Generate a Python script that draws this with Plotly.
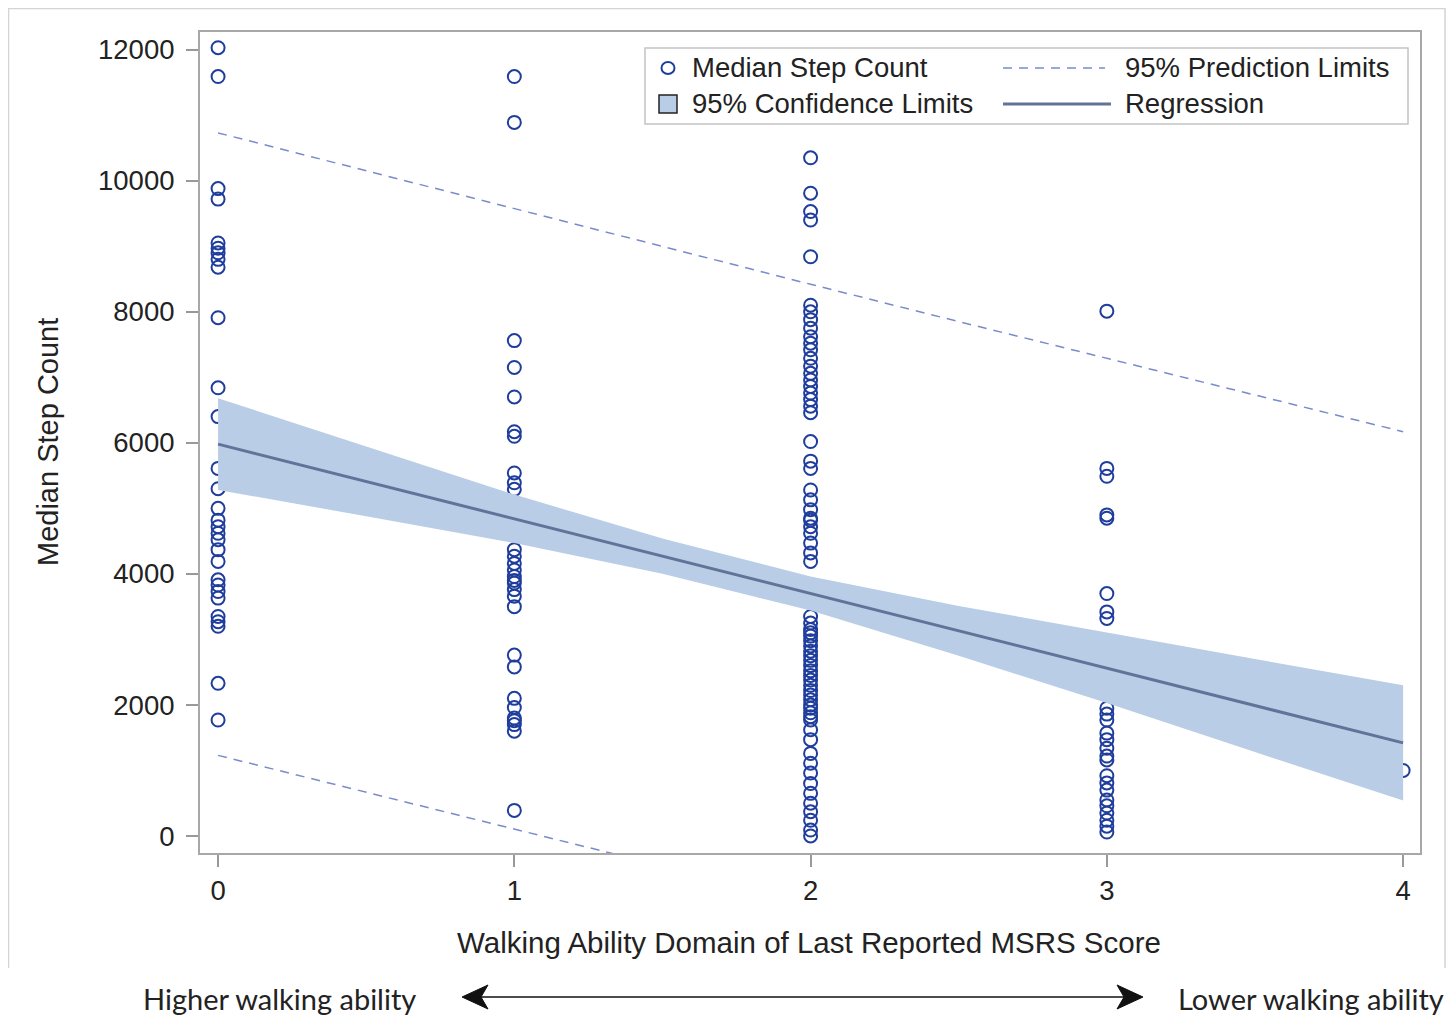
import plotly.graph_objects as go

# ---------------- data ----------------
score_levels = [0, 1, 2, 3, 4]

steps_score0 = [12030, 11590, 9880, 9720, 9050, 8970, 8900, 8800, 8680, 7910,
                6840, 6400, 5610, 5300, 5000, 4820, 4720, 4620, 4520, 4370,
                4190, 3910, 3830, 3730, 3630, 3350, 3270, 3200, 2330, 1770]
steps_score1 = [11590, 10890, 7560, 7150, 6700, 6170, 6100, 5540, 5390, 5290,
                4370, 4270, 4160, 4060, 3960, 3900, 3860, 3760, 3660, 3500,
                2760, 2580, 2100, 1960, 1800, 1760, 1700, 1600, 390]
steps_score2 = [10350, 9810, 9530, 9400, 8840, 8100, 8000, 7880, 7750, 7620,
                7520, 7420, 7290, 7170, 7060, 6960, 6860, 6760, 6660, 6560,
                6460, 6020, 5720, 5610, 5280, 5130, 4980, 4850, 4820, 4720,
                4620, 4470, 4320, 4190, 3350, 3250, 3150, 3100, 3050, 2980,
                2900, 2820, 2750, 2680, 2600, 2520, 2450, 2380, 2300, 2220,
                2150, 2080, 2000, 1950, 1880, 1820, 1770, 1620, 1470, 1260,
                1110, 960, 800, 650, 500, 370, 240, 90, 0]
steps_score3 = [8010, 5610, 5490, 4900, 4850, 3700, 3420, 3320, 1950, 1860,
                1770, 1570, 1470, 1340, 1220, 1160, 920, 810, 700, 550,
                460, 350, 240, 150, 60]
steps_score4 = [1000]

fit_x = [0, 0.5, 1, 1.5, 2, 2.5, 3, 3.5, 4]
regression = [5980, 5410, 4840, 4270, 3700, 3130, 2560, 1990, 1420]
conf_upper = [6680, 5940, 5210, 4540, 3960, 3510, 3100, 2700, 2300]
conf_lower = [5280, 4880, 4470, 4000, 3440, 2750, 2030, 1280, 540]
pred_upper = [10730, 10150, 9570, 8990, 8420, 7850, 7290, 6730, 6170]
pred_lower = [1230, 670, 110, -450, -1020, -1590, -2170, -2750, -3330]

y_ticks = [0, 2000, 4000, 6000, 8000, 10000, 12000]

# ---------------- styling ----------------
# The page shows the figure with an 8px body margin, so the figure is built
# 8px smaller and every reference pixel position is shifted by that offset.
OFF = 8
W, H = 1454 - OFF, 1015 - OFF
PL, PR, PT, PB = 200, 1420, 32, 853          # plot area in reference pixels
FONT = "Liberation Sans, Arial, sans-serif"
TXT = "#222222"
PT_COLOR = "#1f3d9c"
BAND = "#b9cde6"
REG = "#62739a"
PRED = "#7a8bcc"


def px(x):
    return (x - PL) / (PR - PL)


def py(y):
    return (PB - y) / (PB - PT)


all_x, all_y = [], []
for lvl, vals in zip(score_levels, [steps_score0, steps_score1, steps_score2,
                                    steps_score3, steps_score4]):
    all_x += [lvl] * len(vals)
    all_y += vals

fig = go.Figure()

fig.add_trace(go.Scatter(
    x=all_x, y=all_y, mode="markers", name="Median Step Count",
    marker=dict(symbol="circle-open", size=13, color=PT_COLOR,
                line=dict(width=2, color=PT_COLOR)),
    cliponaxis=False, showlegend=False))

fig.add_trace(go.Scatter(
    x=fit_x + fit_x[::-1], y=conf_upper + conf_lower[::-1],
    fill="toself", fillcolor=BAND, line=dict(width=0), mode="lines",
    name="95% Confidence Limits", showlegend=False, hoverinfo="skip"))

fig.add_trace(go.Scatter(
    x=fit_x, y=regression, mode="lines", name="Regression",
    line=dict(color=REG, width=3), showlegend=False))

for arr in (pred_upper, pred_lower):
    fig.add_trace(go.Scatter(
        x=fit_x, y=arr, mode="lines", name="95% Prediction Limits",
        line=dict(color=PRED, width=1.5, dash="9px,7px"), showlegend=False))

shapes = []
annotations = []

# outer frame of the graph image
shapes.append(dict(type="path", xref="paper", yref="paper",
                   path=f"M {px(8.5)},{py(968)} L {px(8.5)},{py(8.5)} L {px(1445)},{py(8.5)} L {px(1445)},{py(968)}",
                   line=dict(color="#d4d4d4", width=1.5)))

# legend box
shapes.append(dict(type="rect", xref="paper", yref="paper",
                   x0=px(645), x1=px(1408), y0=py(124), y1=py(48),
                   line=dict(color="#c4c4c4", width=1.5), fillcolor="white"))
# legend symbols
shapes.append(dict(type="circle", xref="paper", yref="paper",
                   x0=px(661.5), x1=px(674.5), y0=py(74), y1=py(62),
                   line=dict(color=PT_COLOR, width=2)))
shapes.append(dict(type="rect", xref="paper", yref="paper",
                   x0=px(659), x1=px(677), y0=py(113), y1=py(95),
                   line=dict(color="#222222", width=1.5), fillcolor=BAND))
shapes.append(dict(type="line", xref="paper", yref="paper",
                   x0=px(1003), x1=px(1105), y0=py(68), y1=py(68),
                   line=dict(color=PRED, width=1.5, dash="9px,7px")))
shapes.append(dict(type="line", xref="paper", yref="paper",
                   x0=px(1003), x1=px(1111), y0=py(104), y1=py(104),
                   line=dict(color=REG, width=3)))

for text, x0, y0 in [("Median Step Count", 690, 68),
                     ("95% Confidence Limits", 690, 104),
                     ("95% Prediction Limits", 1123, 68),
                     ("Regression", 1123, 104)]:
    annotations.append(dict(text=text, xref="paper", yref="paper",
                            x=px(x0), y=py(y0), xanchor="left", yanchor="middle",
                            showarrow=False, font=dict(family=FONT, size=27.5, color=TXT)))

# axis titles
annotations.append(dict(text="Median Step Count", xref="paper", yref="paper",
                        x=px(48), y=py(442), textangle=-90, showarrow=False,
                        xanchor="center", yanchor="middle",
                        font=dict(family=FONT, size=29, color=TXT)))
annotations.append(dict(text="Walking Ability Domain of Last Reported MSRS Score",
                        xref="paper", yref="paper", x=px(809), y=py(942),
                        showarrow=False, xanchor="center", yanchor="middle",
                        font=dict(family=FONT, size=29.5, color=TXT)))

# bottom arrow + labels
ARR_Y = 997
shapes.append(dict(type="line", xref="paper", yref="paper",
                   x0=px(475), x1=px(1130), y0=py(ARR_Y), y1=py(ARR_Y),
                   line=dict(color="#111111", width=1.5)))
shapes.append(dict(type="path", xref="paper", yref="paper",
                   path=f"M {px(462)},{py(ARR_Y)} L {px(488)},{py(985)} L {px(481)},{py(ARR_Y)} L {px(488)},{py(1009)} Z",
                   fillcolor="#111111", line=dict(color="#111111", width=1)))
shapes.append(dict(type="path", xref="paper", yref="paper",
                   path=f"M {px(1143)},{py(ARR_Y)} L {px(1117)},{py(985)} L {px(1124)},{py(ARR_Y)} L {px(1117)},{py(1009)} Z",
                   fillcolor="#111111", line=dict(color="#111111", width=1)))
annotations.append(dict(text="Higher walking ability", xref="paper", yref="paper",
                        x=px(141), y=py(998), xanchor="left", yanchor="middle",
                        showarrow=False, font=dict(family="Lato, sans-serif", size=29, color="#222222")))
annotations.append(dict(text="Lower walking ability", xref="paper", yref="paper",
                        x=px(1176), y=py(998), xanchor="left", yanchor="middle",
                        showarrow=False, font=dict(family="Lato, sans-serif", size=29, color="#222222")))

fig.update_layout(
    width=W, height=H,
    margin=dict(l=PL - OFF, r=W - (PR - OFF), t=PT - OFF, b=H - (PB - OFF), pad=0),
    paper_bgcolor="white", plot_bgcolor="white",
    showlegend=False,
    shapes=shapes, annotations=annotations,
    xaxis=dict(range=[-0.061, 4.057], tickvals=score_levels,
               ticks="outside", ticklen=12, tickwidth=1.5, tickcolor="#999999",
               showline=True, mirror=True, linecolor="#a8a8a8", linewidth=2,
               showgrid=False, zeroline=False,
               tickfont=dict(family=FONT, size=27.5, color=TXT)),
    yaxis=dict(range=[-260, 12270], tickvals=y_ticks, tickformat="d",
               ticks="outside", ticklen=12, tickwidth=1.5, tickcolor="#999999",
               showline=True, mirror=True, linecolor="#a8a8a8", linewidth=2,
               showgrid=False, zeroline=False, ticklabelstandoff=6,
               tickfont=dict(family=FONT, size=27.5, color=TXT)),
)

fig.write_html("out.html")
